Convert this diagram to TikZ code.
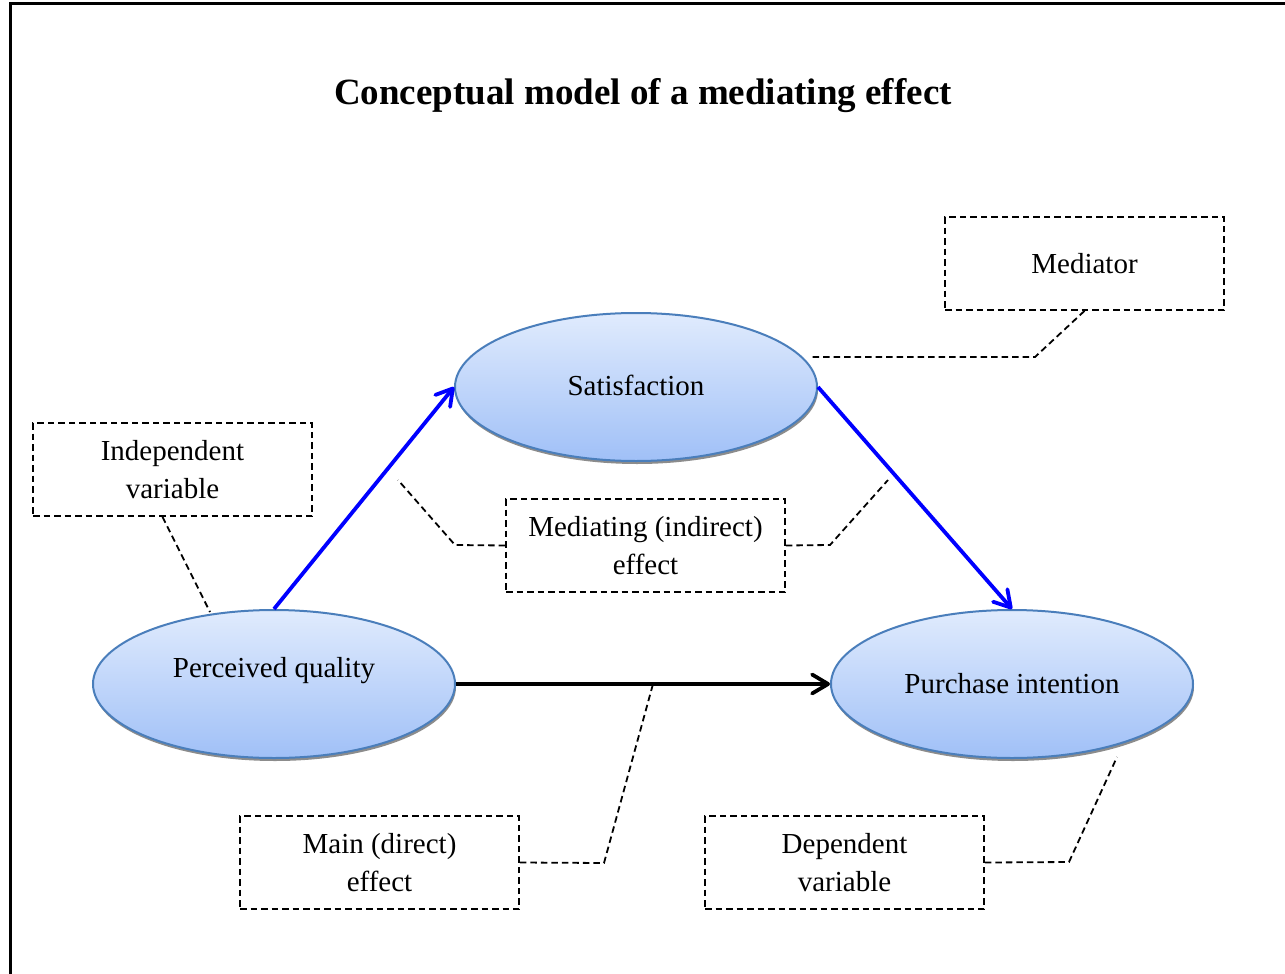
\documentclass[tikz,border=0pt]{standalone}
\usepackage{fontspec}
\setmainfont{Liberation Serif}
\usetikzlibrary{arrows.meta,shadows,shapes.geometric}
\definecolor{ellT}{RGB}{224,235,253}
\definecolor{ellB}{RGB}{160,192,247}
\definecolor{ellE}{RGB}{74,126,187}
\definecolor{arrB}{RGB}{0,0,255}
\begin{document}
\begin{tikzpicture}[x=1pt,y=-1pt,
  var/.style={ellipse, minimum width=362pt, minimum height=148pt, inner sep=0pt,
    draw=ellE, line width=2pt, top color=ellT, bottom color=ellB,
    font=\fontsize{29}{34}\selectfont,
    drop shadow={shadow xshift=1pt, shadow yshift=-3pt, fill=black!45, opacity=1}},
  cbox/.style={draw=black, dash pattern=on 6.5pt off 4pt, line width=1.8pt,
    minimum width=279pt, minimum height=93pt, inner sep=0pt, align=center,
    font=\fontsize{29}{38.5}\selectfont},
  callout/.style={draw=black, dash pattern=on 6.5pt off 4pt, line width=1.8pt},
  flowtip/.style={-{Straight Barb[length=16pt,width=19pt,line width=3.8pt,round]}},
  blueflow/.style={draw=arrB, line width=3.8pt, flowtip},
  blackflow/.style={draw=black, line width=3.8pt, flowtip},
  frame/.style={draw=black, line width=3pt}
]
\useasboundingbox (0,0) rectangle (1285,974);
\draw[frame] (1285,4) -- (10,4) -- (10,974);

\node[font=\fontsize{37}{44}\selectfont\bfseries] (title) at (643,96) {Conceptual model of a mediating effect};

% boxes
\node[cbox] (med) at (1084.5,263.5) {Mediator};
\node[cbox] (iv) at (172.5,469.5) {Independent\\variable};
\node[cbox] (me) at (645.5,545.5) {Mediating (indirect)\\effect};
\node[cbox] (main) at (379.5,862.5) {Main (direct)\\effect};
\node[cbox] (dv) at (844.5,862.5) {Dependent\\variable};

% callouts
\coordinate (medA) at (1035,357);
\coordinate (medB) at (812,357);
\coordinate (ivA) at (210,612);
\coordinate (meLA) at (455,545);
\coordinate (meLB) at (398,480);
\coordinate (meRA) at (830,545);
\coordinate (meRB) at (888,480);
\coordinate (mainA) at (604,863);
\coordinate (mainB) at (653,684);
\coordinate (dvA) at (1069,862);
\coordinate (dvB) at (1117,757);
\path[callout] (med.south) -- (medA) -- (medB);
\path[callout] ([xshift=-10pt]iv.south) -- (ivA);
\path[callout] (me.west) -- (meLA) -- (meLB);
\path[callout] (me.east) -- (meRA) -- (meRB);
\path[callout] (main.east) -- (mainA) -- (mainB);
\path[callout] (dv.east) -- (dvA) -- (dvB);

% variables
\node[var] (sat) at (636,387) {\raisebox{2pt}[\height][\depth]{Satisfaction}};
\node[var] (pq) at (274,684) {\raisebox{13pt}[\height][\depth]{Perceived quality}};
\node[var] (pi) at (1012,684) {Purchase intention};

% effects
\draw[blueflow] (pq.north) -- (sat.west);
\draw[blueflow] (sat.east) -- (pi.north);
\draw[blackflow] (pq.east) -- (pi.west);
\end{tikzpicture}
\end{document}
